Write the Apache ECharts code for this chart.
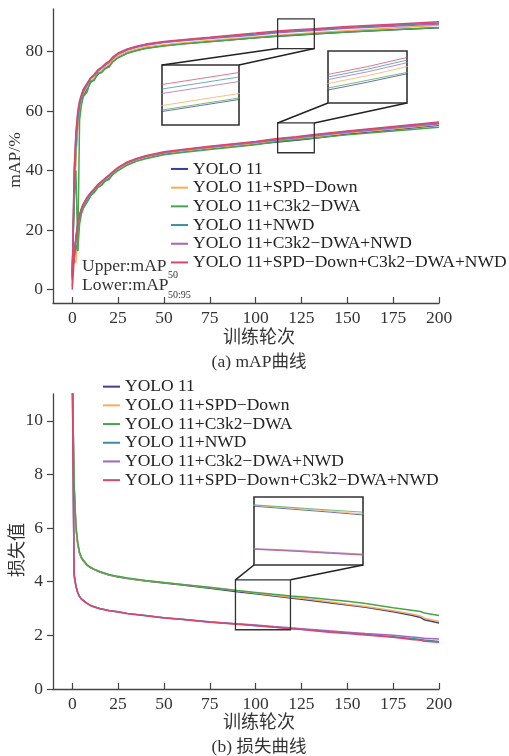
<!DOCTYPE html>
<html>
<head>
<meta charset="utf-8">
<script src="https://cdn.jsdelivr.net/npm/echarts@6/dist/echarts.min.js"></script>
<style>
html, body { margin: 0; padding: 0; background: #fff; }
#main { width: 509px; height: 756px; }
</style>
</head>
<body>
<div id="main"></div>
<script>
// legend names + colours
const names = ['YOLO 11', 'YOLO 11+SPD−Down', 'YOLO 11+C3k2−DWA', 'YOLO 11+NWD', 'YOLO 11+C3k2−DWA+NWD', 'YOLO 11+SPD−Down+C3k2−DWA+NWD'];
const colors = ['#3a3f96', '#f7ac55', '#48a44f', '#35949a', '#a066c0', '#d8486a'];

const xTicks = [0, 25, 50, 75, 100, 125, 150, 175, 200];
const mapTicks = [0, 20, 40, 60, 80];
const lossTicks = [0, 2, 4, 6, 8, 10];

// (a) mAP curves
const mapEpochs = [0, 1, 2, 3, 4, 5, 6, 8, 10, 12, 14, 16, 18, 20, 22, 25, 30, 35, 40, 50, 60, 75, 100, 112, 122, 132, 150, 175, 200];
const map50_yolo   = [5, 30, 46, 56, 60.5, 63.5, 65.2, 67.4, 69.6, 70.8, 72.4, 73.2, 74.3, 75.1, 76.6, 78.0, 79.5, 80.4, 81.1, 82.0, 82.6, 83.4, 84.6, 85.1, 85.5, 85.9, 86.6, 87.3, 88.0];
const map50_spd    = [8, 28, 44, 55, 60, 63.8, 65.8, 67.9, 69.9, 71.2, 72.7, 73.6, 74.8, 75.6, 77.0, 78.4, 79.9, 80.8, 81.5, 82.3, 82.9, 83.7, 84.9, 85.5, 85.9, 86.3, 87.0, 87.9, 88.8];
const map50_dwa    = [6, 30, 40, 13, 57, 62, 64.8, 66.3, 70.0, 70.3, 72.8, 72.9, 74.4, 74.7, 76.5, 77.9, 79.4, 80.3, 81.0, 81.9, 82.5, 83.3, 84.6, 85.2, 85.6, 86.0, 86.6, 87.3, 88.1];
const map50_nwd    = [4, 35, 48, 57, 62, 64.5, 66.4, 68.6, 71.0, 71.9, 73.6, 74.4, 75.6, 76.3, 77.8, 79.2, 80.7, 81.6, 82.3, 83.2, 83.8, 84.6, 85.9, 86.6, 87.0, 87.4, 88.1, 88.8, 89.6];
const map50_dwanwd = [3, 40, 52, 59, 63, 65, 67, 69, 71.2, 72.1, 73.4, 74.5, 75.4, 76.5, 77.6, 79.1, 80.5, 81.4, 82.1, 83.0, 83.6, 84.4, 85.6, 86.3, 86.7, 87.1, 87.8, 88.5, 89.3];
const map50_all    = [1, 38, 53, 60, 63.5, 65.5, 67.3, 69.3, 71.0, 72.4, 73.9, 74.7, 75.9, 76.7, 78.1, 79.5, 80.9, 81.8, 82.5, 83.4, 84.0, 84.8, 86.2, 86.9, 87.3, 87.7, 88.4, 89.2, 90.0];

const map5095_yolo   = [7, 11, 17, 20, 23.5, 26, 27.6, 29.6, 31.5, 33.0, 34.5, 35.3, 36.6, 37.5, 38.7, 40.3, 42.1, 43.3, 44.2, 45.5, 46.3, 47.3, 48.9, 49.6, 50.2, 50.85, 52.3, 53.7, 55.2];
const map5095_spd    = [8, 10, 9, 19, 24, 26.4, 28, 30.2, 32.0, 33.3, 34.8, 35.8, 36.9, 37.8, 39.0, 40.5, 42.3, 43.5, 44.4, 45.7, 46.5, 47.5, 49.1, 50.1, 50.7, 51.4, 52.6, 54.0, 55.5];
const map5095_dwa    = [6, 10, 15, 13, 22, 25.5, 27.2, 29.2, 31.6, 32.6, 34.3, 35.0, 36.5, 37.0, 38.6, 40.0, 41.8, 43.1, 44.0, 45.3, 46.1, 47.1, 48.7, 49.75, 50.35, 50.95, 52.0, 53.3, 54.6];
const map5095_nwd    = [5, 11, 17, 22, 24.5, 27, 28.4, 30.6, 32.3, 33.6, 35.1, 36.1, 37.2, 38.2, 39.4, 40.9, 42.7, 43.9, 44.8, 46.1, 46.9, 48.0, 49.6, 50.6, 51.2, 51.9, 53.1, 54.6, 56.0];
const map5095_dwanwd = [4, 12, 18, 22, 25, 27, 28.5, 30.7, 32.4, 33.7, 35.2, 36.2, 37.3, 38.3, 39.4, 40.9, 42.6, 43.8, 44.7, 46.0, 46.8, 47.8, 49.4, 50.4, 51.0, 51.7, 52.9, 54.3, 55.7];
const map5095_all    = [0, 10, 17, 22.5, 25.3, 27.3, 28.8, 31.0, 32.6, 33.9, 35.4, 36.4, 37.5, 38.5, 39.6, 41.1, 42.9, 44.1, 45.0, 46.3, 47.1, 48.2, 49.8, 50.8, 51.4, 52.1, 53.3, 54.8, 56.3];

// (b) loss curves
const lossEpochs = [0, 1, 2, 3, 4, 5, 6, 8, 10, 12, 15, 20, 25, 30, 40, 50, 60, 75, 90, 100, 110, 119, 125, 140, 150, 160, 175, 185, 190, 192, 200];
const loss_yolo   = [12, 7.6, 6.0, 5.4, 5.05, 4.88, 4.78, 4.62, 4.52, 4.45, 4.36, 4.25, 4.18, 4.12, 4.03, 3.95, 3.88, 3.76, 3.63, 3.55, 3.47, 3.39, 3.35, 3.22, 3.13, 3.05, 2.88, 2.75, 2.67, 2.58, 2.46];
const loss_spd    = [12, 7.5, 6.0, 5.4, 5.06, 4.9, 4.8, 4.63, 4.53, 4.46, 4.37, 4.26, 4.19, 4.13, 4.04, 3.97, 3.9, 3.78, 3.66, 3.58, 3.5, 3.42, 3.38, 3.25, 3.16, 3.08, 2.92, 2.8, 2.72, 2.64, 2.52];
const loss_dwa    = [12, 7.7, 6.1, 5.45, 5.1, 4.92, 4.81, 4.64, 4.54, 4.47, 4.38, 4.27, 4.2, 4.14, 4.05, 3.97, 3.9, 3.79, 3.67, 3.6, 3.53, 3.47, 3.44, 3.34, 3.27, 3.19, 3.03, 2.94, 2.89, 2.83, 2.74];
const loss_nwd    = [12, 4.3, 3.85, 3.6, 3.45, 3.36, 3.3, 3.2, 3.12, 3.07, 3.0, 2.93, 2.88, 2.82, 2.74, 2.66, 2.6, 2.5, 2.42, 2.37, 2.31, 2.26, 2.23, 2.14, 2.09, 2.03, 1.95, 1.88, 1.85, 1.83, 1.77];
const loss_dwanwd = [12, 4.2, 3.82, 3.58, 3.44, 3.35, 3.29, 3.19, 3.11, 3.06, 3.0, 2.93, 2.88, 2.82, 2.74, 2.66, 2.6, 2.51, 2.43, 2.39, 2.33, 2.28, 2.25, 2.17, 2.12, 2.07, 2.0, 1.94, 1.91, 1.89, 1.86];
const loss_all    = [12, 4.3, 3.84, 3.59, 3.44, 3.35, 3.29, 3.19, 3.11, 3.06, 2.99, 2.92, 2.87, 2.81, 2.73, 2.65, 2.59, 2.49, 2.41, 2.36, 2.3, 2.25, 2.22, 2.12, 2.07, 2.01, 1.93, 1.85, 1.82, 1.78, 1.74];

// zoom windows: [xmin, xmax, ymin, ymax] for the box on the main plot and the inset
const boxMapUpper = [112, 132, 81, 91];
const insetMapUpper = [112, 132, 84.2, 88.2];
const boxMapLower = [112, 132, 46, 56];
const insetMapLower = [112, 132, 48.6, 52.6];
const boxLoss = [89, 119, 2.21, 4.07];
const insetLoss = [89, 119, 1.97, 3.9];

const map50 = [map50_yolo, map50_spd, map50_dwa, map50_nwd, map50_dwanwd, map50_all];
const map5095 = [map5095_yolo, map5095_spd, map5095_dwa, map5095_nwd, map5095_dwanwd, map5095_all];
const loss = [loss_yolo, loss_spd, loss_dwa, loss_nwd, loss_dwanwd, loss_all];

const SERIF = '"Liberation Serif", "Times New Roman", serif';
const CJK = '"Liberation Serif", "Noto Sans CJK SC", sans-serif';
const AX = '#444';

// grid rects (pixels)
const gMap = { left: 53, top: 9, width: 386, height: 294 };
const gIn1 = { left: 162, top: 65, width: 77, height: 60 };
const gIn2 = { left: 328, top: 51, width: 79, height: 52 };
const gLoss = { left: 53, top: 394, width: 386, height: 295 };
const gIn3 = { left: 254, top: 497, width: 109, height: 68 };

function pairs(ep, vals) { return ep.map((e, i) => [e, vals[i]]); }

function mainX(idx, min) {
    return {
        type: 'value', gridIndex: idx, min: min, max: 200,
        axisLine: { show: true, onZero: false, lineStyle: { color: AX, width: 1.3 } },
        axisTick: { show: true, inside: true, length: 6, customValues: xTicks, lineStyle: { color: AX, width: 1.2 } },
        axisLabel: { customValues: xTicks, fontFamily: SERIF, fontSize: 17.5, color: '#333', margin: 6 },
        splitLine: { show: false }
    };
}
function mainY(idx, min, max, ticks) {
    return {
        type: 'value', gridIndex: idx, min: min, max: max,
        axisLine: { show: true, onZero: false, lineStyle: { color: AX, width: 1.3 } },
        axisTick: { show: true, inside: false, length: 6, customValues: ticks, lineStyle: { color: AX, width: 1.2 } },
        axisLabel: { customValues: ticks, fontFamily: SERIF, fontSize: 17.5, color: '#333', margin: 10 },
        splitLine: { show: false }
    };
}
function insetAxis(type, idx, r) {
    const o = { type: 'value', gridIndex: idx, show: false, splitLine: { show: false } };
    if (type === 'x') { o.min = r[0]; o.max = r[1]; } else { o.min = r[2]; o.max = r[3]; }
    return o;
}

const series = [];
function addLine(name, color, data, xi, yi, width, opacity) {
    series.push({
        name: name, type: 'line', xAxisIndex: xi, yAxisIndex: yi,
        data: data, showSymbol: false, symbol: 'none', silent: true, clip: true,
        lineStyle: { color: color, width: width, opacity: opacity },
        itemStyle: { color: color }
    });
}
for (let i = 0; i < 6; i++) {
    addLine(names[i], colors[i], pairs(mapEpochs, map50[i]), 0, 0, 1.5, 1);
    addLine(names[i], colors[i], pairs(mapEpochs, map5095[i]), 0, 0, 1.5, 1);
    addLine(names[i], colors[i], pairs(mapEpochs, map50[i]), 1, 1, 1, 0.75);
    addLine(names[i], colors[i], pairs(mapEpochs, map5095[i]), 2, 2, 1, 0.75);
    addLine(names[i], colors[i], pairs(lossEpochs, loss[i]), 3, 3, 1.5, 1);
    addLine(names[i], colors[i], pairs(lossEpochs, loss[i]), 4, 4, 1, 0.75);
}

function legend(left, top) {
    return {
        show: true, data: names, orient: 'vertical', left: left, top: top,
        icon: 'rect', itemWidth: 17, itemHeight: 2, itemGap: 0, selectedMode: false,
        padding: 0,
        textStyle: { fontFamily: SERIF, fontSize: 17.5, color: '#222', lineHeight: 18.7 }
    };
}

const insetGrid = g => Object.assign({ show: true, borderColor: '#333', borderWidth: 1.6, backgroundColor: '#fff' }, g);

const option = {
    animation: false,
    backgroundColor: '#fff',
    grid: [
        Object.assign({ show: false }, gMap),
        insetGrid(gIn1),
        insetGrid(gIn2),
        Object.assign({ show: false }, gLoss),
        insetGrid(gIn3)
    ],
    xAxis: [
        mainX(0, -10.5),
        insetAxis('x', 1, insetMapUpper),
        insetAxis('x', 2, insetMapLower),
        mainX(3, -10.5),
        insetAxis('x', 4, insetLoss)
    ],
    yAxis: [
        mainY(0, -4.5, 94.3, mapTicks),
        insetAxis('y', 1, insetMapUpper),
        insetAxis('y', 2, insetMapLower),
        mainY(3, 0, 11, lossTicks),
        insetAxis('y', 4, insetLoss)
    ],
    legend: [legend(171, 159.6), legend(103, 377.3)],
    series: series
};

const chart = echarts.init(document.getElementById('main'));
chart.setOption(option);

// boxes + connectors, positioned through the axes
function px(gi, x, y) { return chart.convertToPixel({ gridIndex: gi }, [x, y]); }
function boxRect(gi, b) {
    const a = px(gi, b[0], b[3]), c = px(gi, b[1], b[2]);
    return { x: a[0], y: a[1], w: c[0] - a[0], h: c[1] - a[1] };
}
function line(x1, y1, x2, y2) {
    return { type: 'line', z: 10, shape: { x1: x1, y1: y1, x2: x2, y2: y2 }, style: { stroke: '#222', lineWidth: 1.5 } };
}
function rect(r) {
    return { type: 'rect', z: 10, shape: { x: r.x, y: r.y, width: r.w, height: r.h }, style: { fill: null, stroke: '#333', lineWidth: 1.3 } };
}
function text(t, x, y, font, size, extra) {
    return Object.assign({ type: 'text', z: 10, x: x, y: y, style: { text: t, fontFamily: font, fontSize: size, fill: '#333', align: 'center', verticalAlign: 'middle' } }, extra || {});
}

const b1 = boxRect(0, boxMapUpper), b2 = boxRect(0, boxMapLower), b3 = boxRect(3, boxLoss);
const graphic = [
    rect(b1), rect(b2), rect(b3),
    line(b1.x, b1.y + b1.h, gIn1.left, gIn1.top),
    line(b1.x + b1.w, b1.y + b1.h, gIn1.left + gIn1.width, gIn1.top),
    line(b2.x, b2.y, gIn2.left, gIn2.top + gIn2.height),
    line(b2.x + b2.w, b2.y, gIn2.left + gIn2.width, gIn2.top + gIn2.height),
    line(b3.x, b3.y, gIn3.left, gIn3.top + gIn3.height),
    line(b3.x + b3.w, b3.y, gIn3.left + gIn3.width, gIn3.top + gIn3.height),
    text('mAP/%', 15, 160, SERIF, 17.5, { rotation: Math.PI / 2 }),
    text('损失值', 18, 550, CJK, 18, { rotation: Math.PI / 2 }),
    text('训练轮次', 259, 338, CJK, 18),
    text('(a) mAP曲线', 259, 362, CJK, 17.5),
    text('训练轮次', 259, 723, CJK, 18),
    text('(b) 损失曲线', 259, 747, CJK, 17.5),
    { type: 'text', z: 10, x: 82, y: 266, style: { text: 'Upper:mAP', fontFamily: SERIF, fontSize: 17.5, fill: '#333', align: 'left', verticalAlign: 'middle' } },
    { type: 'text', z: 10, x: 168, y: 275.5, style: { text: '50', fontFamily: SERIF, fontSize: 10, fill: '#333', align: 'left', verticalAlign: 'middle' } },
    { type: 'text', z: 10, x: 82, y: 285, style: { text: 'Lower:mAP', fontFamily: SERIF, fontSize: 17.5, fill: '#333', align: 'left', verticalAlign: 'middle' } },
    { type: 'text', z: 10, x: 168, y: 295.5, style: { text: '50:95', fontFamily: SERIF, fontSize: 10, fill: '#333', align: 'left', verticalAlign: 'middle' } }
];
chart.setOption({ graphic: graphic });
</script>
</body>
</html>
